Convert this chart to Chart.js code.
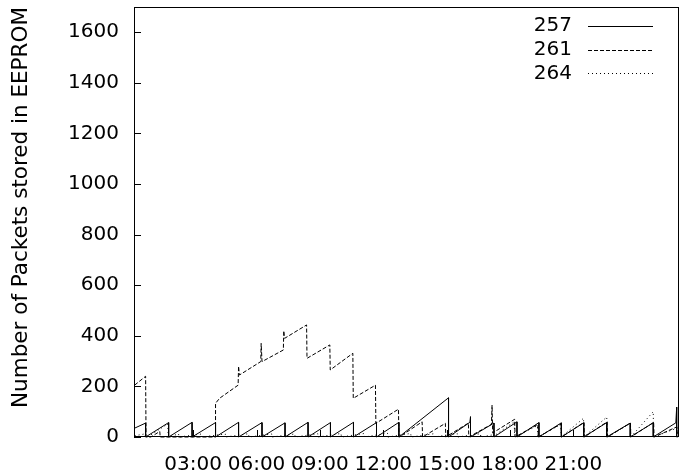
<!DOCTYPE html>
<html><head><meta charset="utf-8">
<script src="https://cdn.jsdelivr.net/npm/chart.js@4"></script>
<style>html,body{margin:0;padding:0;background:#fff}</style>
</head><body>
<canvas id="c" width="680" height="474"></canvas>
<script>
// ---- data (hours of day, packets stored) ----
const xTickValues = [3, 6, 9, 12, 15, 18, 21];
const xTickLabels = ['03:00', '06:00', '09:00', '12:00', '15:00', '18:00', '21:00'];
const yTickValues = [0, 200, 400, 600, 800, 1000, 1200, 1400, 1600];
const seriesNames = ['257', '261', '264'];

const t257 = [0.23, 0.75, 0.75, 1.84, 1.84, 2.95, 2.95, 4.06, 4.06, 5.15, 5.15, 6.26, 6.26, 7.35, 7.35, 8.44, 8.44, 9.50, 9.50, 10.59, 10.59, 11.68, 11.68, 12.74, 12.74, 15.09, 15.09, 16.10, 16.13, 16.13, 17.24, 17.24, 18.33, 18.33, 19.37, 19.37, 20.43, 20.43, 21.49, 21.49, 22.58, 22.58, 23.69, 23.69, 24.78, 24.78, 25.85, 25.89, 25.89, 26.0];
const v257 = [35, 55, 0, 57, 0, 58, 0, 57, 0, 58, 0, 57, 0, 56, 0, 58, 0, 57, 0, 58, 0, 57, 0, 58, 0, 155, 0, 58, 80, 0, 55, 0, 60, 0, 57, 0, 56, 0, 56, 0, 57, 0, 55, 0, 56, 0, 56, 118, 0, 6];

const t261 = [0.23, 0.75, 0.77, 1.0, 1.42, 1.44, 4.06, 4.06, 4.25, 5.13, 5.15, 5.19, 6.20, 6.22, 6.26, 7.27, 7.29, 7.33, 8.37, 8.39, 9.47, 9.49, 10.56, 10.58, 11.63, 11.65, 12.72, 12.74, 12.76, 13.84, 13.86, 14.94, 14.96, 16.03, 16.05, 17.12, 17.15, 17.18, 18.22, 18.24, 19.32, 19.34, 20.42, 20.44, 21.50, 21.52, 22.60, 22.62, 23.70, 23.72, 24.80, 24.82, 25.90, 25.92, 26.0];
const v261 = [205, 240, 0, 0, 22, 0, 0, 133, 153, 205, 280, 245, 298, 370, 298, 344, 420, 390, 443, 311, 364, 265, 331, 153, 205, 54, 110, 0, 0, 60, 0, 54, 0, 55, 0, 50, 126, 16, 70, 0, 50, 0, 52, 0, 58, 0, 60, 0, 55, 0, 58, 0, 40, 0, 5];

const t264 = [0.23, 0.70, 0.72, 0.85, 1.80, 1.82, 2.31, 2.33, 3.41, 3.43, 4.52, 4.54, 5.62, 5.64, 6.72, 6.74, 7.81, 7.83, 8.90, 8.92, 10.00, 10.02, 11.10, 11.12, 12.20, 12.22, 13.30, 13.32, 14.40, 14.42, 15.50, 15.52, 16.60, 16.62, 17.15, 17.17, 18.20, 18.22, 19.30, 19.32, 20.40, 20.42, 21.48, 21.50, 22.58, 22.60, 23.70, 23.72, 24.78, 24.80, 25.90, 25.92, 26.0];
const v264 = [5, 12, 0, 0, 52, 0, 12, 0, 12, 0, 12, 0, 13, 0, 12, 0, 12, 0, 13, 0, 14, 0, 14, 0, 15, 0, 14, 0, 13, 0, 14, 0, 13, 0, 8, 0, 60, 0, 45, 0, 50, 0, 74, 0, 79, 0, 55, 0, 100, 0, 35, 0, 3];

// ---- build ----
const FONT = '"DejaVu Sans", sans-serif';
const pts = (t, v) => t.map((x, i) => ({ x: x, y: v[i] }));
const seriesData = [pts(t257, v257), pts(t261, v261), pts(t264, v264)];
const dashes = [[], [4, 2], [1, 3]];

const frameAndTicks = {
  id: 'frameAndTicks',
  afterDatasetsDraw(chart) {
    const ctx = chart.ctx, ca = chart.chartArea;
    const xs = chart.scales.x, ys = chart.scales.y;
    ctx.save();
    ctx.strokeStyle = '#000';
    ctx.lineWidth = 1;
    ctx.setLineDash([]);
    ctx.strokeRect(ca.left + 0.5, ca.top + 0.5, ca.width - 1, ca.height - 1);
    ctx.beginPath();
    ys.ticks.forEach(tk => {
      const y = Math.round(ys.getPixelForValue(tk.value)) + 0.5;
      ctx.moveTo(ca.left, y); ctx.lineTo(ca.left + 7, y);
    });
    xs.ticks.forEach(tk => {
      const x = Math.round(xs.getPixelForValue(tk.value)) + 0.5;
      ctx.moveTo(x, ca.bottom); ctx.lineTo(x, ca.bottom - 7);
    });
    ctx.stroke();
    ctx.restore();
  },
  afterDraw(chart) {
    const ctx = chart.ctx, ca = chart.chartArea;
    ctx.save();
    ctx.font = '20px ' + FONT;
    ctx.textAlign = 'right';
    ctx.textBaseline = 'middle';
    ctx.fillStyle = '#000';
    chart.data.datasets.forEach((ds, i) => {
      const y = ca.top + 19 + i * 23.7;
      ctx.fillText(ds.label, ca.right - 107, y);
      ctx.strokeStyle = ds.borderColor;
      ctx.lineWidth = 1;
      ctx.setLineDash(ds.borderDash || []);
      const yy = Math.round(y) + 0.5;
      ctx.beginPath();
      ctx.moveTo(ca.right - 91, yy);
      ctx.lineTo(ca.right - 26, yy);
      ctx.stroke();
    });
    ctx.restore();
  }
};

new Chart(document.getElementById('c'), {
  type: 'line',
  data: {
    datasets: seriesNames.map((n, i) => ({
      label: n,
      data: seriesData[i],
      borderColor: '#000',
      borderWidth: 1,
      borderDash: dashes[i],
      pointRadius: 0,
      tension: 0,
      fill: false,
      clip: 2
    }))
  },
  options: {
    responsive: false,
    devicePixelRatio: 1,
    animation: false,
    layout: { padding: { left: 0, right: 1, top: 7, bottom: 0 } },
    plugins: { legend: { display: false }, tooltip: { enabled: false } },
    scales: {
      x: {
        type: 'linear', min: 0.2, max: 26,
        afterBuildTicks: s => { s.ticks = xTickValues.map(v => ({ value: v })); },
        afterFit: s => { s.height = 37; s.paddingLeft = 0; s.paddingRight = 0; },
        ticks: {
          callback: (v, i) => xTickLabels[i],
          font: { family: FONT, size: 20 }, color: '#000',
          padding: 16, maxRotation: 0, autoSkip: false
        },
        grid: { display: false, drawTicks: false },
        border: { display: false }
      },
      y: {
        type: 'linear', min: 0, max: 1700,
        afterBuildTicks: s => { s.ticks = yTickValues.map(v => ({ value: v })); },
        afterFit: s => { s.width = 134; s.paddingTop = 0; s.paddingBottom = 0; },
        ticks: {
          callback: v => String(v),
          font: { family: FONT, size: 20 }, color: '#000', padding: 15
        },
        grid: { display: false, drawTicks: false },
        border: { display: false },
        title: {
          display: true, text: 'Number of Packets stored in EEPROM',
          align: 'end',
          font: { family: FONT, size: 21.5 }, color: '#000',
          padding: { top: 9, bottom: 0 }
        }
      }
    }
  },
  plugins: [frameAndTicks]
});
</script>
</body></html>
